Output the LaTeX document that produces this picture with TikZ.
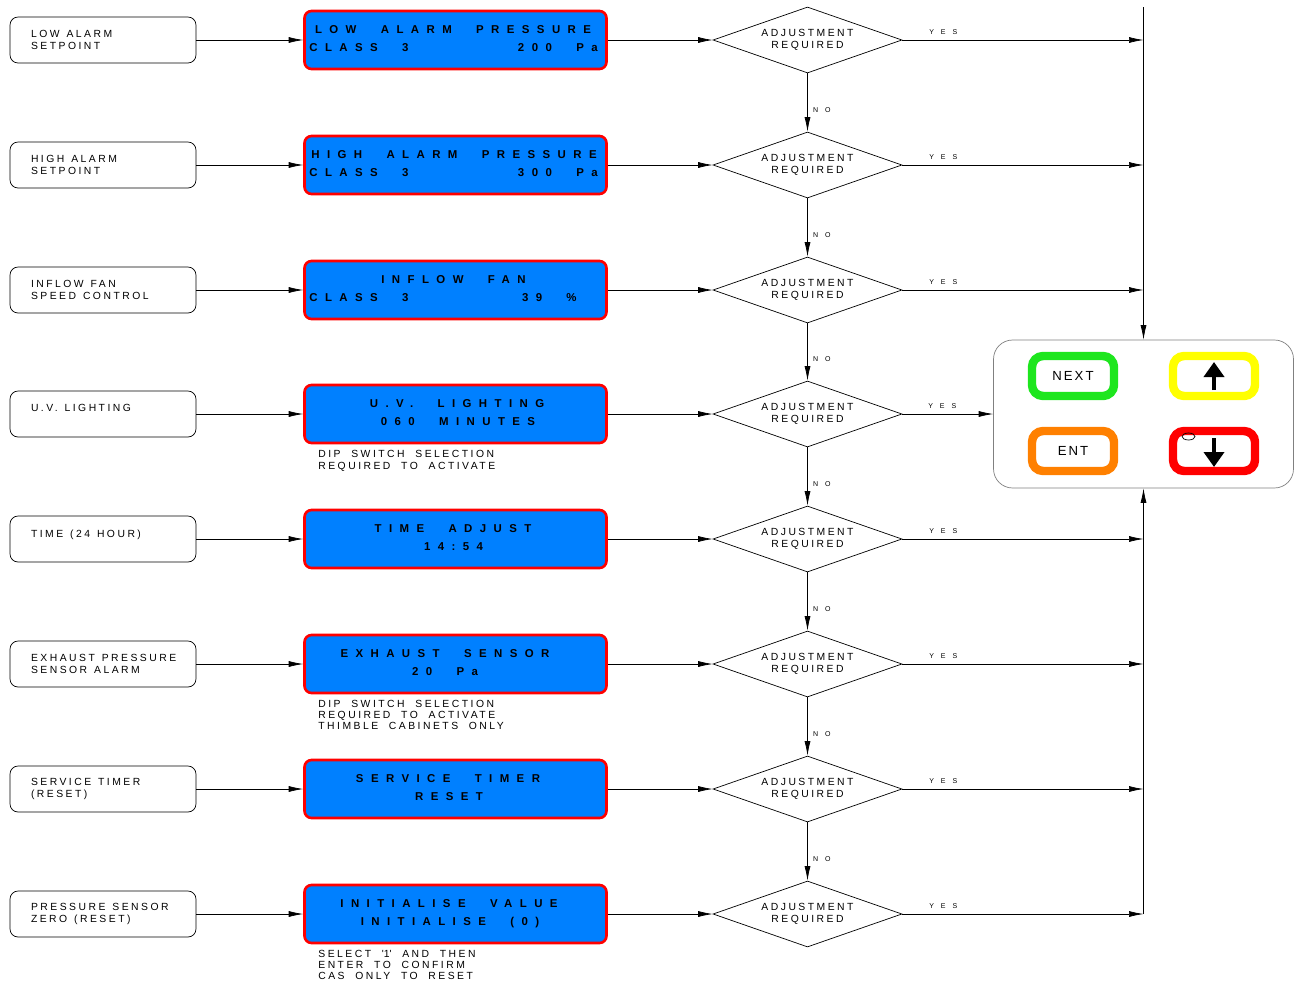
\documentclass[tikz,border=0pt]{standalone}
\usepackage{fontspec}
\setmainfont{Liberation Sans}
\newfontfamily\cadfont[LetterSpace=24]{Liberation Sans}
\newfontfamily\lcdfont[LetterSpace=65, WordSpace=2.3]{Liberation Sans}
\newfontfamily\ynfont[LetterSpace=100]{Liberation Sans}
\newfontfamily\keyfont[LetterSpace=15]{Liberation Sans}
\usepackage{tikz}
\usetikzlibrary{
    arrows.meta,
    calc,
    shapes.geometric
}

\definecolor{lcdblue}{RGB}{0,128,255}
\definecolor{keygreen}{RGB}{30,230,30}
\definecolor{keyyellow}{RGB}{255,255,0}
\definecolor{keyorange}{RGB}{255,128,0}
\definecolor{keyred}{RGB}{255,0,0}

\tikzset{
    arr/.style={-{Latex[length=2.9mm,width=1.2mm]}},
    lbox/.style={draw, rounded corners=0.16cm, minimum width=3.72cm, minimum height=0.92cm,
        inner xsep=0.42cm, inner ysep=0pt, text width=2.88cm, align=left,
        font={\cadfont\fontsize{5.9}{6.5}\selectfont\hyphenpenalty=10000\hbadness=10000\hfuzz=50pt}},
    lcd/.style={draw=keyred, line width=1.5pt, fill=lcdblue, rounded corners=0.14cm,
        minimum width=6.04cm, minimum height=1.16cm},
    lcdtxt/.style={inner sep=0pt, text height=4.6pt, text depth=0pt,
        font={\lcdfont\bfseries\fontsize{6.5}{7}\selectfont}},
    ask/.style={diamond, draw, aspect=2.86, inner sep=0pt, minimum width=3.78cm,
        minimum height=1.32cm, align=center, font={\cadfont\fontsize{5.9}{6.5}\selectfont}},
    note/.style={anchor=north west, inner sep=0pt, align=left,
        font={\cadfont\fontsize{5.9}{6.5}\selectfont}},
    yn/.style={inner sep=0pt, font={\ynfont\fontsize{4}{5}\selectfont}},
    key/.style={draw=#1, line width=4.8pt, fill=white, rounded corners=0.22cm,
        minimum width=1.64cm, minimum height=0.8cm, inner sep=0pt,
        font={\keyfont\fontsize{7.5}{8}\selectfont}},
    keyarrow/.style={line width=2.3pt, -{Triangle[length=3mm,width=4mm]}}
}

\begin{document}
\begin{tikzpicture}[x=0.02cm, y=-0.02cm]
\useasboundingbox (0,0) rectangle (1301,987);

% Settings
\node[lbox] (lb1) at (103,40) {LOW~~ALARM\\SETPOINT};
\node[lbox] (lb2) at (103,165) {HIGH~~ALARM\\SETPOINT};
\node[lbox] (lb3) at (103,290) {INFLOW~~FAN\\SPEED~~CONTROL};
\node[lbox] (lb4) at (103,414) {U.V.~~LIGHTING\\\mbox{}};
\node[lbox] (lb5) at (103,539) {TIME~~(24~~HOUR)\\\mbox{}};
\node[lbox] (lb6) at (103,664) {EXHAUST~~PRESSURE\\SENSOR~~ALARM};
\node[lbox] (lb7) at (103,789) {SERVICE~~TIMER\\(RESET)};
\node[lbox] (lb8) at (103,914) {PRESSURE~~SENSOR\\ZERO~~(RESET)};

% Displays
\node[lcd] (lcd1) at (455.5,40) {};
\node[lcd] (lcd2) at (455.5,165) {};
\node[lcd] (lcd3) at (455.5,290) {};
\node[lcd] (lcd4) at (455.5,414) {};
\node[lcd] (lcd5) at (455.5,539) {};
\node[lcd] (lcd6) at (455.5,664) {};
\node[lcd] (lcd7) at (455.5,789) {};
\node[lcd] (lcd8) at (455.5,914) {};

% Display texts
\node[lcdtxt] (lcd1a) at (453,29.5) {LOW ALARM PRESSURE};
\node[lcdtxt, anchor=west] (lcd1b) at (309,47.5) {CLASS 3};
\node[lcdtxt, anchor=east] (lcd1c) at (598,47.5) {200 Pa};
\node[lcdtxt] (lcd2a) at (454,154.5) {HIGH ALARM PRESSURE};
\node[lcdtxt, anchor=west] (lcd2b) at (309,172.5) {CLASS 3};
\node[lcdtxt, anchor=east] (lcd2c) at (598,172.5) {300 Pa};
\node[lcdtxt] (lcd3a) at (453.5,279.5) {INFLOW FAN};
\node[lcdtxt, anchor=west] (lcd3b) at (309,297.5) {CLASS 3};
\node[lcdtxt, anchor=east] (lcd3c) at (577,297.5) {39 \%};
\node[lcdtxt] (lcd4a) at (457,403.5) {U.V. LIGHTING};
\node[lcdtxt] (lcd4b) at (458,421.5) {060 MINUTES};
\node[lcdtxt] (lcd5a) at (453,528.5) {TIME ADJUST};
\node[lcdtxt] (lcd5b) at (453.5,546.5) {14:54};
\node[lcdtxt] (lcd6a) at (445,653.5) {EXHAUST SENSOR};
\node[lcdtxt] (lcd6b) at (445,671.5) {20 Pa};
\node[lcdtxt] (lcd7a) at (448,778.5) {SERVICE TIMER};
\node[lcdtxt] (lcd7b) at (449,796.5) {RESET};
\node[lcdtxt] (lcd8a) at (449,903.5) {INITIALISE VALUE};
\node[lcdtxt] (lcd8b) at (450,921.5) {INITIALISE (0)};

% Notes
\node[note] (n4) at (318,450) {DIP~~SWITCH~~SELECTION\\REQUIRED~~TO~~ACTIVATE};
\node[note] (n6) at (318,699.5) {DIP~~SWITCH~~SELECTION\\REQUIRED~~TO~~ACTIVATE\\THIMBLE~~CABINETS~~ONLY};
\node[note] (n8) at (318,949.5) {SELECT~~\textquotesingle 1\textquotesingle~~AND~~THEN\\ENTER~~TO~~CONFIRM\\CAS~~ONLY~~TO~~RESET};

% Decisions
\node[ask] (d1) at (807.5,40) {ADJUSTMENT\\REQUIRED};
\node[ask] (d2) at (807.5,165) {ADJUSTMENT\\REQUIRED};
\node[ask] (d3) at (807.5,290) {ADJUSTMENT\\REQUIRED};
\node[ask] (d4) at (807.5,414) {ADJUSTMENT\\REQUIRED};
\node[ask] (d5) at (807.5,539) {ADJUSTMENT\\REQUIRED};
\node[ask] (d6) at (807.5,664) {ADJUSTMENT\\REQUIRED};
\node[ask] (d7) at (807.5,789) {ADJUSTMENT\\REQUIRED};
\node[ask] (d8) at (807.5,914) {ADJUSTMENT\\REQUIRED};

% Keypad
\node[draw=gray, rounded corners=0.38cm, minimum width=6cm, minimum height=2.96cm] (keypad) at (1143.5,414) {};
\node[key=keygreen] (knext) at (1073,376) {NEXT};
\node[key=keyyellow] (kup) at (1214,376) {};
\node[key=keyorange] (kent) at (1073,451) {ENT};
\node[key=keyred] (kdown) at (1214,451) {};
\draw[keyarrow] ($(kup)+(0,14)$) -- ($(kup)+(0,-14)$);
\draw[keyarrow] ($(kdown)+(0,-13)$) -- ($(kdown)+(0,16)$);
\node[draw, ellipse, minimum width=0.26cm, minimum height=0.14cm, inner sep=0pt] (led) at (1188.5,436.5) {};

% Inputs
\draw[arr] (lb1.east) -- (lcd1.west);
\draw[arr] (lb2.east) -- (lcd2.west);
\draw[arr] (lb3.east) -- (lcd3.west);
\draw[arr] (lb4.east) -- (lcd4.west);
\draw[arr] (lb5.east) -- (lcd5.west);
\draw[arr] (lb6.east) -- (lcd6.west);
\draw[arr] (lb7.east) -- (lcd7.west);
\draw[arr] (lb8.east) -- (lcd8.west);
\draw[arr] (lcd1.east) -- (d1.west);
\draw[arr] (lcd2.east) -- (d2.west);
\draw[arr] (lcd3.east) -- (d3.west);
\draw[arr] (lcd4.east) -- (d4.west);
\draw[arr] (lcd5.east) -- (d5.west);
\draw[arr] (lcd6.east) -- (d6.west);
\draw[arr] (lcd7.east) -- (d7.west);
\draw[arr] (lcd8.east) -- (d8.west);

% No branches
\draw[arr] (d1.south) -- node[yn, right=3pt, pos=0.63] (no1) {NO} (d2.north);
\draw[arr] (d2.south) -- node[yn, right=3pt, pos=0.63] (no2) {NO} (d3.north);
\draw[arr] (d3.south) -- node[yn, right=3pt, pos=0.63] (no3) {NO} (d4.north);
\draw[arr] (d4.south) -- node[yn, right=3pt, pos=0.63] (no4) {NO} (d5.north);
\draw[arr] (d5.south) -- node[yn, right=3pt, pos=0.63] (no5) {NO} (d6.north);
\draw[arr] (d6.south) -- node[yn, right=3pt, pos=0.63] (no6) {NO} (d7.north);
\draw[arr] (d7.south) -- node[yn, right=3pt, pos=0.63] (no7) {NO} (d8.north);

% Yes branches
\coordinate (top) at (1143.5,7);
\draw[arr] (top) -- (keypad.north);
\draw[arr] (d1.east) -- node[yn, above=3pt, pos=0.17] (yes1) {YES} (d1.east -| top);
\draw[arr] (d2.east) -- node[yn, above=3pt, pos=0.17] (yes2) {YES} (d2.east -| top);
\draw[arr] (d3.east) -- node[yn, above=3pt, pos=0.17] (yes3) {YES} (d3.east -| top);
\draw[arr] (d4.east) -- node[yn, above=3pt, pos=0.44] (yes4) {YES} (keypad.west);
\draw[arr] (d5.east) -- node[yn, above=3pt, pos=0.17] (yes5) {YES} (d5.east -| top);
\draw[arr] (d6.east) -- node[yn, above=3pt, pos=0.17] (yes6) {YES} (d6.east -| top);
\draw[arr] (d7.east) -- node[yn, above=3pt, pos=0.17] (yes7) {YES} (d7.east -| top);
\draw[arr] (d8.east) -- node[yn, above=3pt, pos=0.17] (yes8) {YES} (d8.east -| top);
\draw[arr] (d8.east -| top) -- (keypad.south);
\end{tikzpicture}
\end{document}
